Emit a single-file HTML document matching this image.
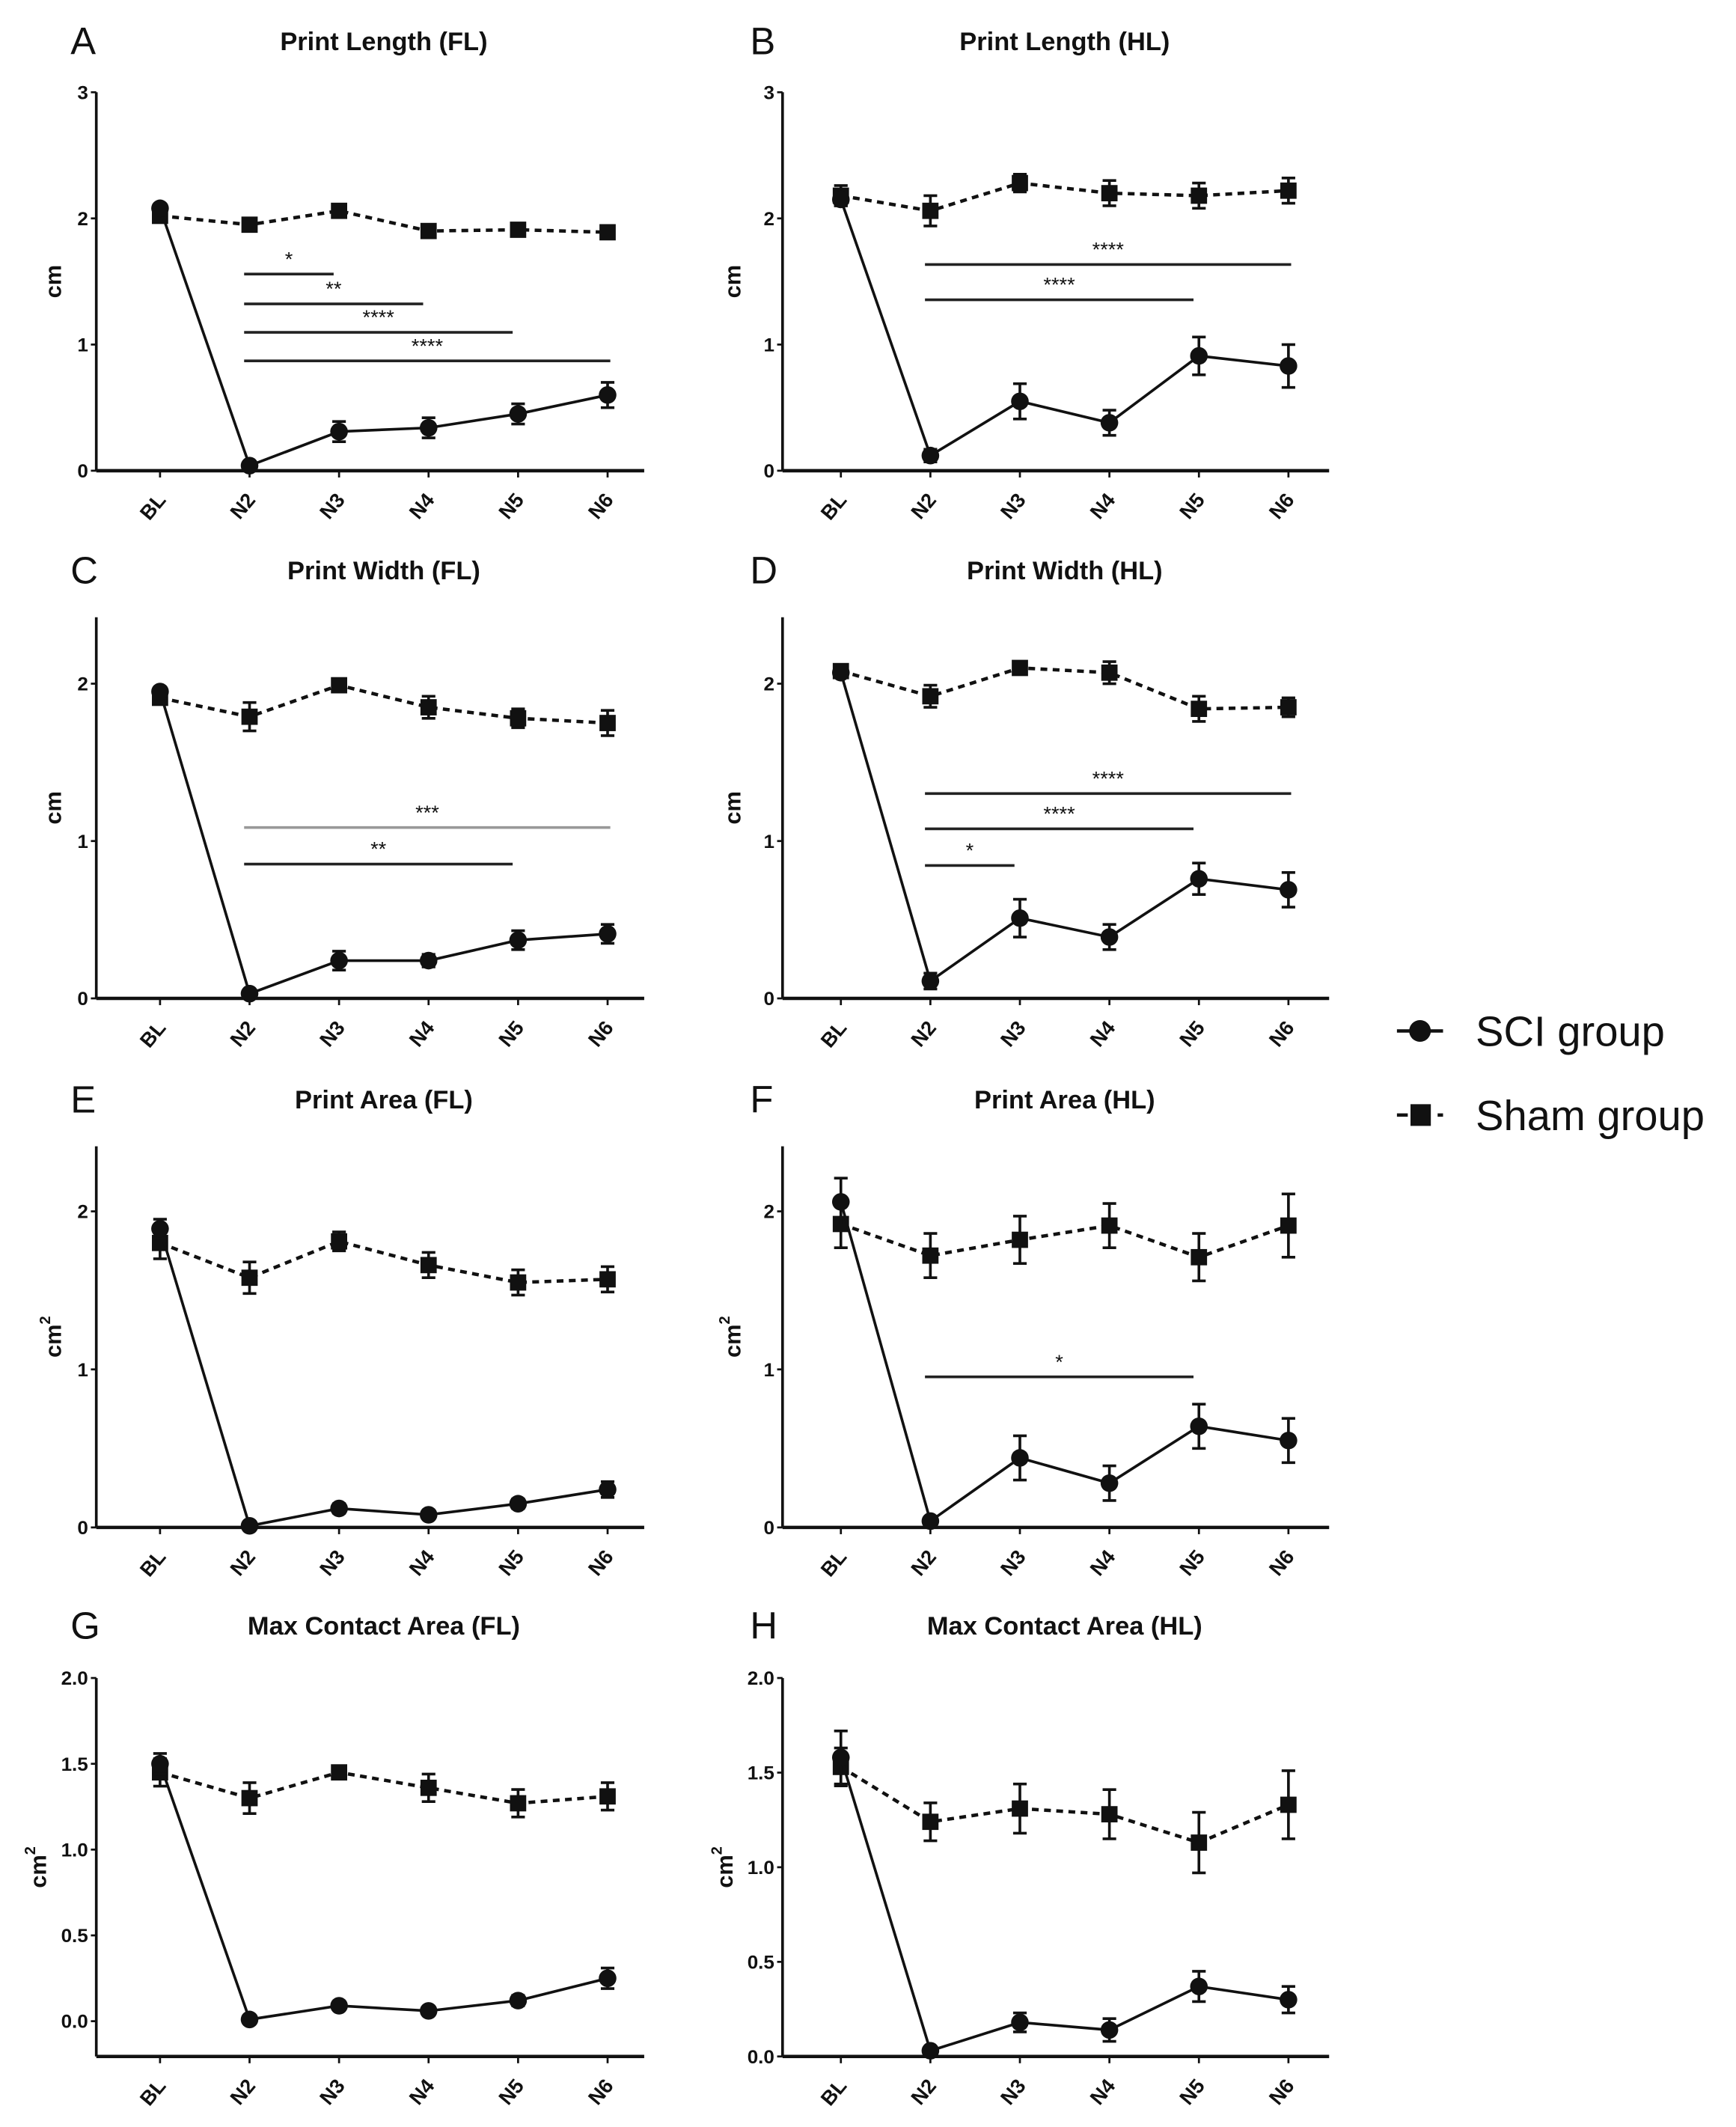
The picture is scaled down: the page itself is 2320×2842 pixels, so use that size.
<!DOCTYPE html>
<html><head><meta charset="utf-8"><style>
html,body{margin:0;padding:0;background:#fff;}
svg{display:block}
text{font-family:"Liberation Sans",Arial,sans-serif;fill:#111}
</style></head><body>
<svg id="s" width="2320" height="2842" viewBox="0 0 1280 1568" xmlns="http://www.w3.org/2000/svg"></svg>
<script>
const S=document.getElementById('s');let h='';
const labs=['BL','N2','N3','N4','N5','N6'];
function P(o){
 const L=o.left, ax=L?71:577, xe=L?475:980, x0=L?118:620;
 const X=i=>x0+66*i, Y=v=>o.z-v*o.k;
 const bottom=o.bot||o.z;
 h+=`<text x="${L?52:553}" y="${o.ty+10}" font-size="28">${o.letter}</text>`;
 h+=`<text x="${L?283:785}" y="${o.ty+7}" font-size="19" font-weight="bold" text-anchor="middle">${o.title}</text>`;
 h+=`<line x1="${ax}" y1="${o.top}" x2="${ax}" y2="${bottom}" stroke="#111" stroke-width="2"/>`;
 h+=`<line x1="${ax}" y1="${bottom}" x2="${xe}" y2="${bottom}" stroke="#111" stroke-width="2.5"/>`;
 o.ticks.forEach(t=>{const y=Y(t);h+=`<line x1="${ax-4}" y1="${y}" x2="${ax}" y2="${y}" stroke="#111" stroke-width="1.5"/><text x="${ax-6}" y="${y+5}" font-size="14" font-weight="bold" text-anchor="end" textLength="${o.fmt?20:8}" lengthAdjust="spacingAndGlyphs">${o.fmt?t.toFixed(1):t}</text>`;});
 labs.forEach((l,i)=>{const x=X(i);h+=`<line x1="${x}" y1="${bottom}" x2="${x}" y2="${bottom+5}" stroke="#111" stroke-width="1.5"/><text transform="translate(${x+5},${bottom+22}) rotate(-50)" font-size="15" font-weight="bold" text-anchor="end">${l}</text>`;});
 const ym=(o.top+bottom)/2;
 h+=`<text transform="translate(${L?(o.fmt?34:45):(o.fmt?540:546)},${ym}) rotate(-90)" font-size="17" font-weight="bold" text-anchor="middle">${o.unit2?'cm<tspan font-size="11" dy="-8">2</tspan>':'cm'}</text>`;
 const ser=(d,dash,sq)=>{
  h+=`<polyline points="${d.map((p,i)=>X(i)+','+Y(p[0])).join(' ')}" fill="none" stroke="#111" stroke-width="${dash?2.5:2}" ${dash?'stroke-dasharray="5,4"':''}/>`;
  d.forEach((p,i)=>{const x=X(i),y=Y(p[0]),e=(p[1]||0)*o.k;
   if(e>2)h+=`<path d="M${x},${y-e}V${y+e}M${x-5},${y-e}H${x+5}M${x-5},${y+e}H${x+5}" stroke="#111" stroke-width="2" fill="none"/>`;
   h+=sq?`<rect x="${x-6}" y="${y-6}" width="12" height="12" fill="#111"/>`:`<circle cx="${x}" cy="${y}" r="6.5" fill="#111"/>`;});
 };
 ser(o.sham,true,true);ser(o.sci,false,false);
 (o.bars||[]).forEach(b=>{const x1=X(1)-4,x2=X(b[1])+(b[1]==5?2:-4);
  h+=`<line x1="${x1}" y1="${b[0]}" x2="${x2}" y2="${b[0]}" stroke="${b[3]||'#222'}" stroke-width="2"/><text x="${(x1+x2)/2}" y="${b[0]-6}" font-size="15" text-anchor="middle">${b[2]}</text>`;});
}
P({left:1,letter:'A',title:'Print Length (FL)',ty:30,top:68,z:347,k:93,ticks:[0,1,2,3],
 sci:[[2.08,.02],[0.04],[0.31,.08],[0.34,.08],[0.45,.08],[0.6,.1]],
 sham:[[2.02,.03],[1.95,.03],[2.06,.03],[1.9,.05],[1.91,.03],[1.89,.03]],
 bars:[[202,2,'*'],[224,3,'**'],[245,4,'****'],[266,5,'****']]});
P({left:0,letter:'B',title:'Print Length (HL)',ty:30,top:68,z:347,k:93,ticks:[0,1,2,3],
 sci:[[2.15,.05],[0.12,.05],[0.55,.14],[0.38,.1],[0.91,.15],[0.83,.17]],
 sham:[[2.18,.08],[2.06,.12],[2.28,.07],[2.2,.1],[2.18,.1],[2.22,.1]],
 bars:[[195,5,'****'],[221,4,'****']]});
P({left:1,letter:'C',title:'Print Width (FL)',ty:420,top:455,z:736,k:116,ticks:[0,1,2],
 sci:[[1.95,.02],[0.03],[0.24,.06],[0.24,.04],[0.37,.06],[0.41,.06]],
 sham:[[1.91,.03],[1.79,.09],[1.99,.03],[1.85,.07],[1.78,.06],[1.75,.08]],
 bars:[[610,5,'***','#999'],[637,4,'**']]});
P({left:0,letter:'D',title:'Print Width (HL)',ty:420,top:455,z:736,k:116,ticks:[0,1,2],
 sci:[[2.07,.03],[0.11,.05],[0.51,.12],[0.39,.08],[0.76,.1],[0.69,.11]],
 sham:[[2.08,.04],[1.92,.07],[2.1,.04],[2.07,.07],[1.84,.08],[1.85,.06]],
 bars:[[585,5,'****'],[611,4,'****'],[638,2,'*']]});
P({left:1,letter:'E',title:'Print Area (FL)',ty:810,top:845,z:1126,k:116.5,ticks:[0,1,2],unit2:1,
 sci:[[1.89,.06],[0.01],[0.12,.03],[0.08,.02],[0.15,.03],[0.24,.05]],
 sham:[[1.8,.1],[1.58,.1],[1.81,.06],[1.66,.08],[1.55,.08],[1.57,.08]]});
P({left:0,letter:'F',title:'Print Area (HL)',ty:810,top:845,z:1126,k:116.5,ticks:[0,1,2],unit2:1,
 sci:[[2.06,.15],[0.04],[0.44,.14],[0.28,.11],[0.64,.14],[0.55,.14]],
 sham:[[1.92,.15],[1.72,.14],[1.82,.15],[1.91,.14],[1.71,.15],[1.91,.2]],
 bars:[[1015,4,'*']]});
P({left:1,letter:'G',title:'Max Contact Area (FL)',ty:1198,top:1237,z:1490,bot:1516,k:126.5,ticks:[0,.5,1,1.5,2],fmt:1,unit2:1,
 sci:[[1.5,.06],[0.01],[0.09,.02],[0.06,.02],[0.12,.03],[0.25,.06]],
 sham:[[1.45,.08],[1.3,.09],[1.45,.03],[1.36,.08],[1.27,.08],[1.31,.08]]});
P({left:0,letter:'H',title:'Max Contact Area (HL)',ty:1198,top:1237,z:1516,k:139.5,ticks:[0,.5,1,1.5,2],fmt:1,unit2:1,
 sci:[[1.58,.14],[0.03],[0.18,.05],[0.14,.06],[0.37,.08],[0.3,.07]],
 sham:[[1.53,.1],[1.24,.1],[1.31,.13],[1.28,.13],[1.13,.16],[1.33,.18]]});
h+=`<line x1="1030" y1="760" x2="1064" y2="760" stroke="#111" stroke-width="2.5"/><circle cx="1047" cy="760" r="8" fill="#111"/><text x="1088" y="771" font-size="31">SCI group</text>`;
h+=`<line x1="1030" y1="822" x2="1038" y2="822" stroke="#111" stroke-width="2.5"/><rect x="1040" y="814" width="15" height="16" fill="#111"/><line x1="1060" y1="822" x2="1064" y2="822" stroke="#111" stroke-width="2.5"/><text x="1088" y="833" font-size="31">Sham group</text>`;
S.innerHTML=h;
</script>
</body></html>
